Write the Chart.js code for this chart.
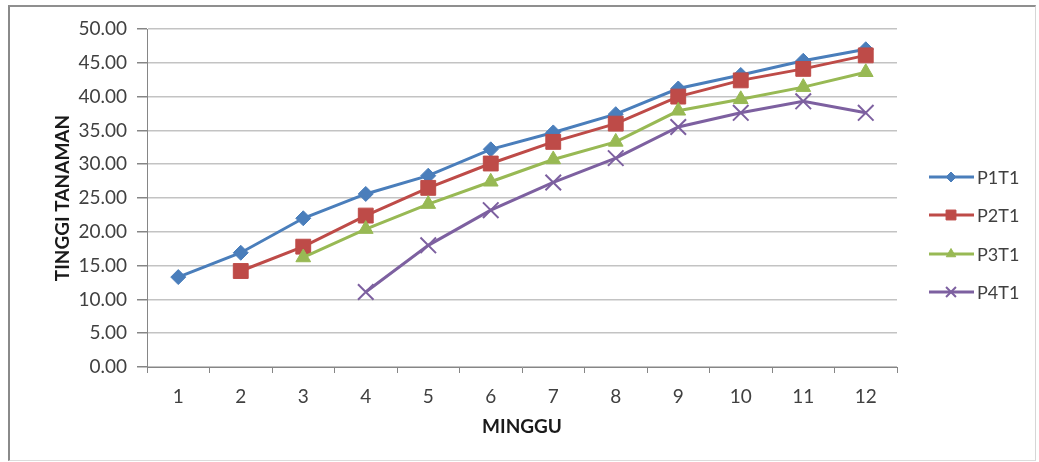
<!DOCTYPE html>
<html>
<head>
<meta charset="utf-8">
<script src="https://cdn.jsdelivr.net/npm/chart.js@4.4.1/dist/chart.umd.min.js"></script>
<style>
  html, body { margin: 0; padding: 0; background: #ffffff; }
  #wrap { position: relative; width: 1039px; height: 462px; }
  #frame {
    position: absolute; left: 8px; top: 5px; width: 1025px; height: 453px;
    border-left: 2px solid #8a8a8a; border-top: 2px solid #8f8f8f;
    border-right: 1px solid #d6d6d6; border-bottom: 1px solid #dcdcdc;
    pointer-events: none;
  }
</style>
</head>
<body>
<div id="wrap">
  <canvas id="chart" width="1039" height="462"></canvas>
  <div id="frame"></div>
</div>
<script>
// Weekly plant height (cm) per treatment
const weeks = ['1', '2', '3', '4', '5', '6', '7', '8', '9', '10', '11', '12'];
const seriesNames = ['P1T1', 'P2T1', 'P3T1', 'P4T1'];
const p1t1 = [13.3, 16.9, 22.0, 25.6, 28.3, 32.2, 34.7, 37.4, 41.2, 43.2, 45.3, 47.0];
const p2t1 = [null, 14.2, 17.8, 22.4, 26.5, 30.1, 33.3, 36.0, 40.0, 42.4, 44.1, 46.1];
const p3t1 = [null, null, 16.2, 20.4, 24.1, 27.4, 30.7, 33.3, 37.9, 39.6, 41.4, 43.6];
const p4t1 = [null, null, null, 11.1, 18.0, 23.2, 27.3, 30.9, 35.5, 37.6, 39.3, 37.6];
const yTicks = [0, 5, 10, 15, 20, 25, 30, 35, 40, 45, 50];

const FONT = 'Lato, "Liberation Sans", sans-serif';

const styles = [
  { color: '#4a7ebb', point: 'rectRot', radius: 7.5, legendRadius: 5, pw: 1 },
  { color: '#be4b48', point: 'rect', radius: 10.5, legendRadius: 7, pw: 1 },
  { color: '#98b954', point: 'triangle', radius: 8.5, legendRadius: 5.5, pw: 1 },
  { color: '#7d60a0', point: 'crossRot', radius: 11, legendRadius: 7, pw: 2 }
];
const values = [p1t1, p2t1, p3t1, p4t1];

const datasets = values.map((v, i) => ({
  label: seriesNames[i],
  data: v,
  borderColor: styles[i].color,
  backgroundColor: styles[i].color,
  borderWidth: 3,
  pointStyle: styles[i].point,
  pointRadius: styles[i].radius,
  pointHoverRadius: styles[i].radius,
  pointBorderWidth: styles[i].pw,
  pointBorderColor: styles[i].color,
  pointBackgroundColor: styles[i].color,
  tension: 0,
  spanGaps: false,
  order: values.length - i
}));

// Excel-style legend: a short line with the series marker in its middle
const sideLegend = {
  id: 'sideLegend',
  afterDraw(chart) {
    const ctx = chart.ctx;
    const rows = [177, 215, 254, 292];
    ctx.save();
    seriesNames.forEach((name, i) => {
      const y = rows[i];
      const s = styles[i];
      ctx.strokeStyle = s.color;
      ctx.lineWidth = 3;
      ctx.beginPath();
      ctx.moveTo(929, y);
      ctx.lineTo(974, y);
      ctx.stroke();
      ctx.fillStyle = s.color;
      ctx.strokeStyle = s.color;
      ctx.lineWidth = s.pw;
      Chart.helpers.drawPoint(ctx, { pointStyle: s.point, radius: s.legendRadius, borderWidth: s.pw, rotation: 0 }, 951, y);
      ctx.fillStyle = '#404040';
      ctx.font = '18px ' + FONT;
      ctx.textBaseline = 'middle';
      ctx.textAlign = 'left';
      ctx.fillText(name, 977, y + 1);
    });
    ctx.restore();
  }
};

new Chart(document.getElementById('chart'), {
  type: 'line',
  data: { labels: weeks, datasets },
  plugins: [sideLegend],
  options: {
    responsive: false,
    animation: false,
    devicePixelRatio: 1,
    layout: { padding: { top: 29, right: 142, bottom: 0, left: 0 } },
    plugins: { legend: { display: false }, tooltip: { enabled: false } },
    scales: {
      x: {
        type: 'category',
        offset: true,
        grid: { offset: true, drawOnChartArea: false, tickLength: 6, tickColor: '#868686', lineWidth: 1 },
        border: { color: '#868686', width: 1 },
        ticks: { color: '#404040', font: { family: FONT, size: 19 }, padding: 12, maxRotation: 0 },
        title: { display: true, text: 'MINGGU', color: '#1a1a1a', font: { family: FONT, size: 19, weight: 'bold' }, padding: { top: 0, bottom: 24 } },
        afterFit(scale) { scale.height = 462 - 367; }
      },
      y: {
        min: 0,
        max: 50,
        afterBuildTicks(scale) { scale.ticks = yTicks.map(v => ({ value: v })); },
        grid: { color: '#c3c3c3', lineWidth: 1.5, tickLength: 10, tickColor: '#868686' },
        border: { color: '#868686', width: 1 },
        ticks: { color: '#404040', font: { family: FONT, size: 19 }, padding: 10, callback: v => Number(v).toFixed(2) },
        title: { display: true, text: 'TINGGI TANAMAN', color: '#1a1a1a', font: { family: FONT, size: 19, weight: 'bold' }, padding: { top: 51, bottom: 0 } },
        afterFit(scale) { scale.width = 147; }
      }
    }
  }
});
</script>
</body>
</html>
